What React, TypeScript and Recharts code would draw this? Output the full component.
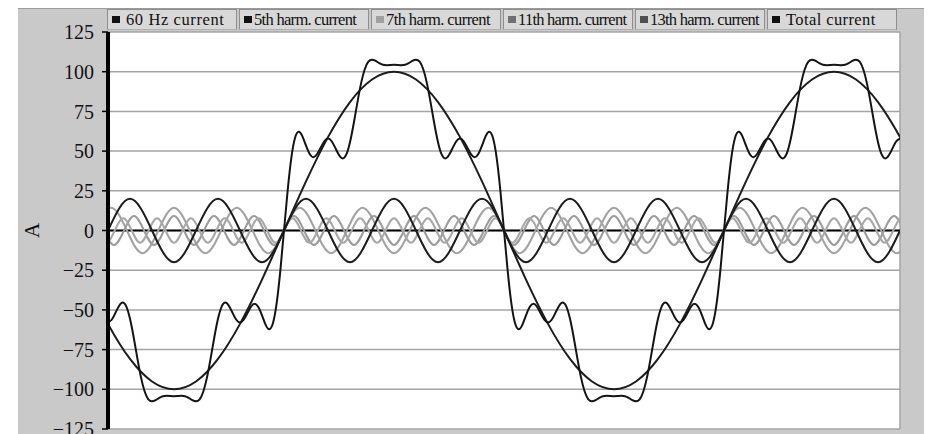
import React from 'react';
import { LineChart, Line, XAxis, YAxis, CartesianGrid, ReferenceLine } from 'recharts';

// Phase angle (deg of the 60 Hz wave) at t = 0, and ms per degree at 60 Hz
const DEG_AT_START = -144;
const MS_PER_DEG = 1000 / (60 * 360);

const timeTicks = [0, 5, 10, 15, 20, 25, 30];
const currentTicks = [-125, -100, -75, -50, -25, 0, 25, 50, 75, 100, 125];

// 60 Hz current, every 18 deg starting at -180 deg
const fundamental = [
  0, -30.9, -58.8, -80.9, -95.1, -100, -95.1, -80.9, -58.8, -30.9,
  0, 30.9, 58.8, 80.9, 95.1, 100, 95.1, 80.9, 58.8, 30.9,
  0, -30.9, -58.8, -80.9, -95.1, -100, -95.1, -80.9, -58.8, -30.9,
  0, 30.9, 58.8, 80.9, 95.1, 100, 95.1, 80.9, 58.8, 30.9, 0,
];

// 5th harmonic, every 18 deg (quarter period) starting at -144 deg
const fifth = [
  0, 20, 0, -20, 0, 20, 0, -20, 0, 20, 0, -20,
  0, 20, 0, -20, 0, 20, 0, -20, 0, 20, 0, -20,
  0, 20, 0, -20, 0, 20, 0, -20, 0, 20, 0, -20, 0,
];

// 7th harmonic, quarter periods of 90/7 deg
const seventh = [
  0, 14.3, 0, -14.3, 0, 14.3, 0, -14.3, 0, 14.3, 0, -14.3,
  0, 14.3, 0, -14.3, 0, 14.3, 0, -14.3, 0, 14.3, 0, -14.3,
  0, 14.3, 0, -14.3, 0, 14.3, 0, -14.3, 0, 14.3, 0, -14.3,
  0, 14.3, 0, -14.3, 0, 14.3, 0, -14.3, 0, 14.3, 0, -14.3,
  0, 14.3, 0, -14.3, 0,
];

// 11th harmonic, quarter periods of 90/11 deg
const eleventh = [
  0, -9.1, 0, 9.1, 0, -9.1, 0, 9.1, 0, -9.1, 0, 9.1,
  0, -9.1, 0, 9.1, 0, -9.1, 0, 9.1, 0, -9.1, 0, 9.1,
  0, -9.1, 0, 9.1, 0, -9.1, 0, 9.1, 0, -9.1, 0, 9.1,
  0, -9.1, 0, 9.1, 0, -9.1, 0, 9.1, 0, -9.1, 0, 9.1,
  0, -9.1, 0, 9.1, 0, -9.1, 0, 9.1, 0, -9.1, 0, 9.1,
  0, -9.1, 0, 9.1, 0, -9.1, 0, 9.1, 0, -9.1, 0, 9.1,
  0, -9.1, 0, 9.1, 0, -9.1, 0, 9.1, 0,
];

// 13th harmonic, quarter periods of 90/13 deg
const thirteenth = [
  0, -7.7, 0, 7.7, 0, -7.7, 0, 7.7, 0, -7.7, 0, 7.7,
  0, -7.7, 0, 7.7, 0, -7.7, 0, 7.7, 0, -7.7, 0, 7.7,
  0, -7.7, 0, 7.7, 0, -7.7, 0, 7.7, 0, -7.7, 0, 7.7,
  0, -7.7, 0, 7.7, 0, -7.7, 0, 7.7, 0, -7.7, 0, 7.7,
  0, -7.7, 0, 7.7, 0, -7.7, 0, 7.7, 0, -7.7, 0, 7.7,
  0, -7.7, 0, 7.7, 0, -7.7, 0, 7.7, 0, -7.7, 0, 7.7,
  0, -7.7, 0, 7.7, 0, -7.7, 0, 7.7, 0, -7.7, 0, 7.7,
  0, -7.7, 0, 7.7, 0, -7.7, 0, 7.7, 0, -7.7, 0, 7.7, 0,
];

// Total current, every 3 deg from -144 to 504 deg
const total = [
  -57.9, -56.2, -52.0, -47.5, -45.4, -47.9, -55.6, -67.2, -80.4, -92.5, -101.4, -106.3,
  -107.6, -106.8, -105.4, -104.4, -104.1, -104.2, -104.3, -104.2, -104.1, -104.4, -105.4, -106.8,
  -107.6, -106.3, -101.4, -92.5, -80.4, -67.2, -55.6, -47.9, -45.4, -47.5, -52.0, -56.2,
  -57.9, -56.2, -52.2, -48.0, -46.2, -48.2, -53.4, -59.4, -62.2, -58.3, -45.8, -25.3,
  0, 25.3, 45.8, 58.3, 62.2, 59.4, 53.4, 48.2, 46.2, 48.0, 52.2, 56.2,
  57.9, 56.2, 52.0, 47.5, 45.4, 47.9, 55.6, 67.2, 80.4, 92.5, 101.4, 106.3,
  107.6, 106.8, 105.4, 104.4, 104.1, 104.2, 104.3, 104.2, 104.1, 104.4, 105.4, 106.8,
  107.6, 106.3, 101.4, 92.5, 80.4, 67.2, 55.6, 47.9, 45.4, 47.5, 52.0, 56.2,
  57.9, 56.2, 52.2, 48.0, 46.2, 48.2, 53.4, 59.4, 62.2, 58.3, 45.8, 25.3,
  0, -25.3, -45.8, -58.3, -62.2, -59.4, -53.4, -48.2, -46.2, -48.0, -52.2, -56.2,
  -57.9, -56.2, -52.0, -47.5, -45.4, -47.9, -55.6, -67.2, -80.4, -92.5, -101.4, -106.3,
  -107.6, -106.8, -105.4, -104.4, -104.1, -104.2, -104.3, -104.2, -104.1, -104.4, -105.4, -106.8,
  -107.6, -106.3, -101.4, -92.5, -80.4, -67.2, -55.6, -47.9, -45.4, -47.5, -52.0, -56.2,
  -57.9, -56.2, -52.2, -48.0, -46.2, -48.2, -53.4, -59.4, -62.2, -58.3, -45.8, -25.3,
  0, 25.3, 45.8, 58.3, 62.2, 59.4, 53.4, 48.2, 46.2, 48.0, 52.2, 56.2,
  57.9, 56.2, 52.0, 47.5, 45.4, 47.9, 55.6, 67.2, 80.4, 92.5, 101.4, 106.3,
  107.6, 106.8, 105.4, 104.4, 104.1, 104.2, 104.3, 104.2, 104.1, 104.4, 105.4, 106.8,
  107.6, 106.3, 101.4, 92.5, 80.4, 67.2, 55.6, 47.9, 45.4, 47.5, 52.0, 56.2,
  57.9,
];

const toRows = (startDeg: number, stepDeg: number, values: number[]) =>
  values.map((v, i) => ({ t: (startDeg + i * stepDeg - DEG_AT_START) * MS_PER_DEG, v }));

const series = [
  { key: 'f60', name: '60 Hz current', rows: toRows(-180, 18, fundamental), color: '#1c1c1c', marker: '#111', spacing: 0.6 },
  { key: 'h5', name: '5th harm. current', rows: toRows(-144, 18, fifth), color: '#1c1c1c', marker: '#111', spacing: -0.7 },
  { key: 'h7', name: '7th harm. current', rows: toRows(-1080 / 7, 90 / 7, seventh), color: '#a2a2a2', marker: '#a0a0a0', spacing: -0.6 },
  { key: 'h11', name: '11th harm. current', rows: toRows(-1620 / 11, 90 / 11, eleventh), color: '#9c9c9c', marker: '#707070', spacing: -0.75 },
  { key: 'h13', name: '13th harm. current', rows: toRows(-1980 / 13, 90 / 13, thirteenth), color: '#a8a8a8', marker: '#505050', spacing: -0.75 },
  { key: 'tot', name: 'Total current', rows: toRows(-144, 3, total), color: '#141414', marker: '#111', spacing: 0.4 },
];

// grey harmonics underneath, black traces on top
const drawOrder = ['h7', 'h11', 'h13', 'h5', 'f60', 'tot'];

const FONT = '"Liberation Serif", "DejaVu Serif", serif';

const fmtTick = (v: number) => String(v).replace('-', '\u2212');

export default function App() {
  return (
    <div
      style={{
        position: 'relative',
        marginLeft: 10,
        width: 914,
        height: 426,
        background: '#c9c9c9',
        borderTop: '1px solid #9a9a9a',
        boxSizing: 'border-box',
        fontFamily: FONT,
        overflow: 'hidden',
      }}
    >
      <LineChart width={914} height={426} margin={{ top: 23, right: 32, bottom: 6, left: 0 }}>
        <CartesianGrid stroke="#a4a4a4" strokeWidth={1.5} fill="#ffffff" />
        <XAxis
          type="number"
          dataKey="t"
          domain={[0, 30]}
          ticks={timeTicks}
          allowDataOverflow
          height={0}
          tick={false}
          axisLine={false}
          tickLine={false}
        />
        <YAxis
          type="number"
          domain={[-125, 125]}
          ticks={currentTicks}
          interval={0}
          width={90}
          tickFormatter={fmtTick}
          tickSize={6}
          tickMargin={8}
          tick={{ fontSize: 20, fontFamily: FONT, fill: '#111' }}
          axisLine={{ stroke: '#000', strokeWidth: 4 }}
          tickLine={{ stroke: '#000', strokeWidth: 1.5 }}
          label={{
            value: 'A',
            angle: -90,
            position: 'insideLeft',
            offset: 14,
            style: { fontSize: 21, fontFamily: FONT, fill: '#111', textAnchor: 'middle' },
          }}
        />
        <ReferenceLine y={0} stroke="#000" strokeWidth={2} />
        {drawOrder.map((k) => {
          const s = series.find((x) => x.key === k)!;
          return (
            <Line
              key={s.key}
              data={s.rows}
              dataKey="v"
              name={s.name}
              type="natural"
              stroke={s.color}
              strokeWidth={2}
              dot={false}
              activeDot={false}
              isAnimationActive={false}
            />
          );
        })}
      </LineChart>

      <div style={{ position: 'absolute', left: 89, top: 0, display: 'flex' }}>
        {series.map((s) => (
          <div
            key={s.key}
            style={{
              width: 130,
              height: 21,
              marginRight: 2,
              background: '#d8d8d8',
              border: '1px solid #8e8e8e',
              borderBottomColor: '#b0b0b0',
              display: 'flex',
              alignItems: 'center',
              paddingLeft: 4,
              boxSizing: 'border-box',
              fontSize: 16.5,
              color: '#111',
              whiteSpace: 'nowrap',
              overflow: 'hidden',
            }}
          >
            <span
              style={{
                display: 'inline-block',
                flex: 'none',
                width: 8,
                height: 7,
                background: s.marker,
                marginRight: s.key === 'f60' || s.key === 'tot' ? 6 : 2,
              }}
            />
            <span style={{ letterSpacing: s.spacing }}>{s.name}</span>
          </div>
        ))}
      </div>
    </div>
  );
}
